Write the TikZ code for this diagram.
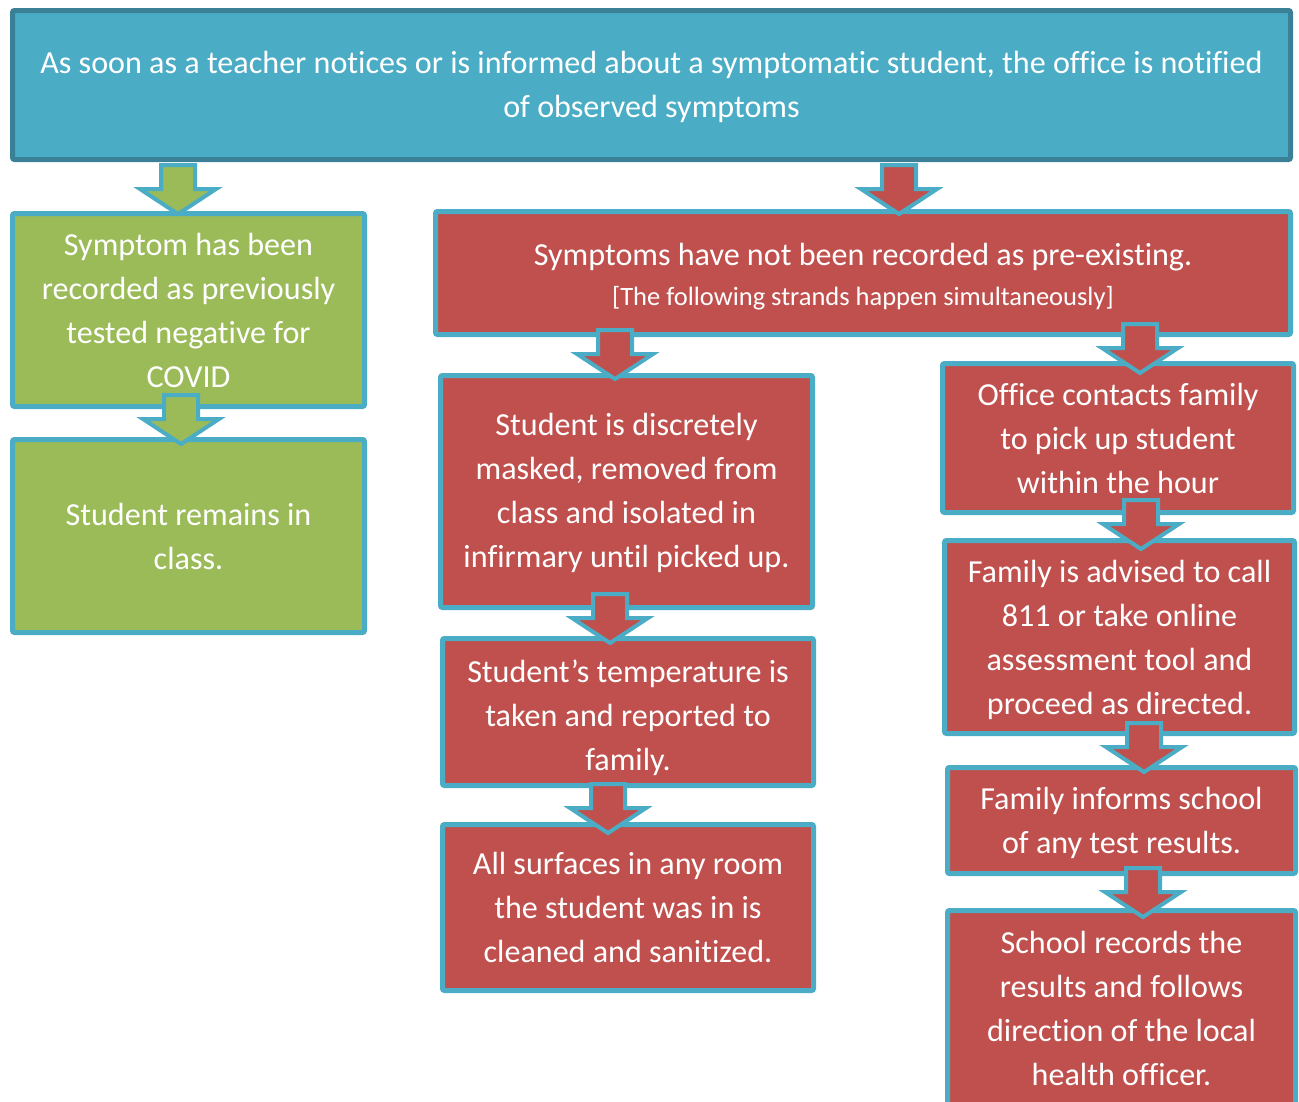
\documentclass[tikz,border=0pt]{standalone}
\usepackage{fontspec}
\setmainfont[Ligatures={NoCommon}]{Carlito}
\definecolor{topfill}{HTML}{4BACC6}
\definecolor{topbord}{HTML}{3A8197}
\definecolor{bluebord}{HTML}{4BACC6}
\definecolor{redfill}{HTML}{C0504D}
\definecolor{grnfill}{HTML}{9BBB59}
\tikzset{
  box/.style={draw=bluebord, line width=5pt, rounded corners=2pt, inner sep=0pt},
  redbox/.style={box, fill=redfill},
  grnbox/.style={box, fill=grnfill},
  topbox/.style={box, fill=topfill, draw=topbord},
  txt/.style={text=white, align=center, inner sep=0pt, font=\fontsize{32.1}{44}\selectfont},
  arrowline/.style={draw=bluebord, line width=4pt, line join=miter},
  pics/downarrow/.style={code={
    \filldraw[arrowline, fill=#1] (-17,2) -- (-17,26) -- (-38,26) -- (0,51)
      -- (38,26) -- (17,26) -- (17,2) -- cycle;}}
}
\begin{document}
\begin{tikzpicture}[x=1pt,y=-1pt]
\useasboundingbox (0,0) rectangle (1299,1101);
\clip (0,0) rectangle (1299,1101);
\node[topbox, minimum width=1278, minimum height=149] (top) at (651.5,85) {};
\node[txt] (toptxt) at ([yshift=-2pt]top.center)
  {As soon as a teacher notices or is informed about a symptomatic student, the office is notified\\of observed symptoms};
\node[grnbox, minimum width=352, minimum height=193] (g1) at (188.5,310) {};
\node[txt] (g1txt) at (g1.center) {Symptom has been\\recorded as previously\\tested negative for\\COVID};
\node[grnbox, minimum width=352, minimum height=193] (g2) at (188.5,536) {};
\node[txt] (g2txt) at (g2.center) {Student remains in\\class.};
\node[redbox, minimum width=855, minimum height=123] (hdr) at (863,273) {};
\node[txt] (hdrtxt) at ([yshift=-3.5pt]hdr.center)
  {Symptoms have not been recorded as pre-existing.\\[-4pt]{\fontsize{26.5}{34}\selectfont [The following strands happen simultaneously]}};
\node[redbox, minimum width=372, minimum height=232] (b1) at (626.5,491.5) {};
\node[txt] (b1txt) at ([yshift=-1pt]b1.center) {Student is discretely\\masked, removed from\\class and isolated in\\infirmary until picked up.};
\node[redbox, minimum width=371, minimum height=147] (b2) at (628,712) {};
\node[txt] (b2txt) at ([yshift=-5.5pt]b2.center) {Student’s temperature is\\taken and reported to\\family.};
\node[redbox, minimum width=371, minimum height=166] (b3) at (628,907.5) {};
\node[txt] (b3txt) at ([yshift=0.5pt]b3.center) {All surfaces in any room\\the student was in is\\cleaned and sanitized.};
\node[redbox, minimum width=351, minimum height=149] (c1) at (1118,438) {};
\node[txt] (c1txt) at (c1.center) {Office contacts family\\to pick up student\\within the hour};
\node[redbox, minimum width=350, minimum height=193] (c2) at (1119.5,637) {};
\node[txt] (c2txt) at ([yshift=-3pt]c2.center) {Family is advised to call\\811 or take online\\assessment tool and\\proceed as directed.};
\node[redbox, minimum width=348, minimum height=106] (c3) at (1121.5,820.5) {};
\node[txt] (c3txt) at ([yshift=-2pt]c3.center) {Family informs school\\of any test results.};
\node[redbox, minimum width=348, minimum height=195] (c4) at (1121.5,1008) {};
\node[txt] (c4txt) at (c4.center) {School records the\\results and follows\\direction of the local\\health officer.};
\pic at (178,163) {downarrow=grnfill};
\pic at (899,163) {downarrow=redfill};
\pic at (615,328) {downarrow=redfill};
\pic at (1140,322) {downarrow=redfill};
\pic at (181,393) {downarrow=grnfill};
\pic at (610,592) {downarrow=redfill};
\pic at (608,782) {downarrow=redfill};
\pic at (1141,498) {downarrow=redfill};
\pic at (1144,721) {downarrow=redfill};
\pic at (1143,866) {downarrow=redfill};
\end{tikzpicture}
\end{document}
